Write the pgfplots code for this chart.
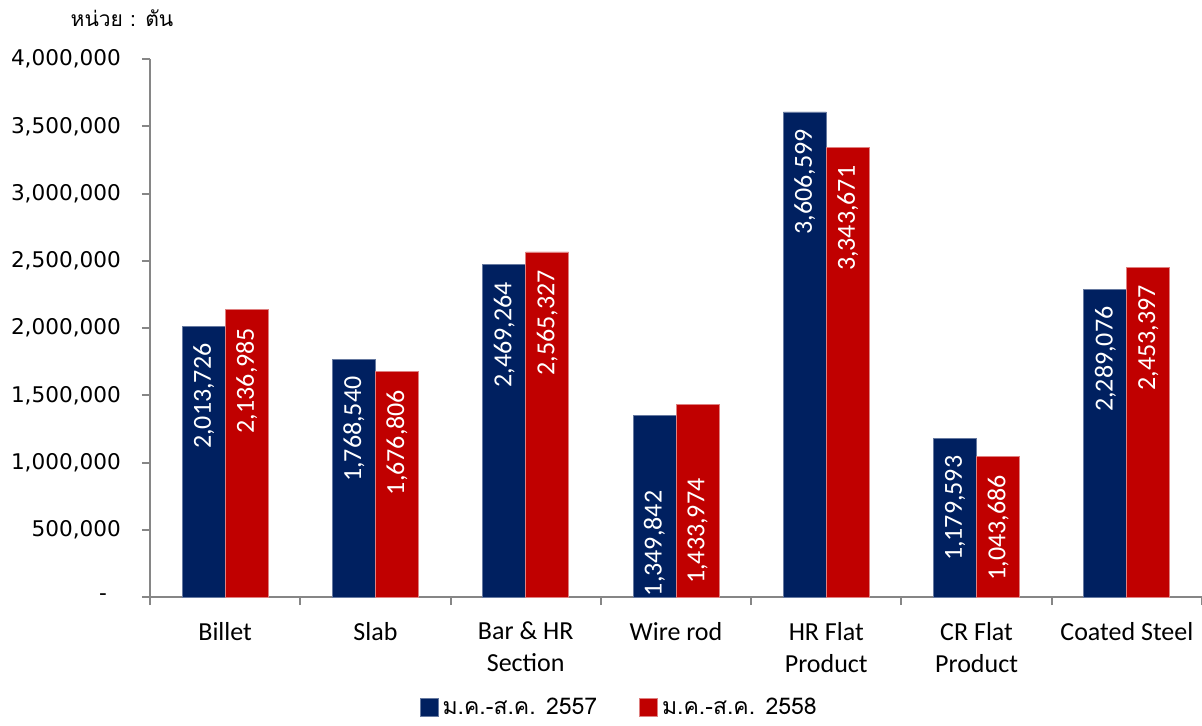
\documentclass[border=0pt]{standalone}
\usepackage{fontspec}
\usepackage{pgfplots}
\usepackage{pgfplotstable}
\pgfplotsset{compat=1.18}
\setmainfont{Carlito}
\newfontfamily\thai[Script=Thai]{Loma}
\newfontfamily\dejavu{DejaVu Sans}
\definecolor{cblue}{RGB}{0,32,96}
\definecolor{cred}{RGB}{192,0,0}
\definecolor{axgray}{RGB}{134,134,134}

\pgfplotstableread{
x y label off
0 2013726 2,013,726 8.5
1 1768540 1,768,540 8.5
2 2469264 2,469,264 8.5
3 1349842 1,349,842 37.5
4 3606599 3,606,599 8.5
5 1179593 1,179,593 8.5
6 2289076 2,289,076 8.5
}\tblA
\pgfplotstableread{
x y label off
0 2136985 2,136,985 9
1 1676806 1,676,806 9
2 2565327 2,565,327 9
3 1433974 1,433,974 37
4 3343671 3,343,671 9
5 1043686 1,043,686 9
6 2453397 2,453,397 9
}\tblB

\begin{document}
\begin{tikzpicture}
\useasboundingbox (-75pt,-64pt) rectangle (526pt,298.5pt);
\begin{axis}[
  at={(0,0)}, anchor=south west,
  scale only axis,
  width=526pt, height=269pt,
  xmin=-0.5, xmax=6.5,
  ymin=0, ymax=4000000,
  ybar=0pt, bar width=21.5pt,
  axis x line*=bottom, axis y line*=left,
  axis line style={draw=axgray, line width=1pt},
  tick align=outside,
  xtick={0,...,6},
  xticklabels={Billet, Slab, {Bar \& HR\\Section}, Wire rod, {HR Flat\\Product}, {CR Flat\\Product}, Coated Steel},
  xticklabel style={font=\fontsize{13}{16}\selectfont, align=center, yshift=-5pt},
  major x tick style={draw=none},
  minor xtick={-0.5,0.5,...,6.5},
  minor tick length=4pt,
  minor x tick style={draw=axgray, line width=1pt},
  ytick={0,500000,...,4000000},
  yticklabels={{-\kern 7pt},{500,000},{1,000,000},{1,500,000},{2,000,000},{2,500,000},{3,000,000},{3,500,000},{4,000,000}},
  yticklabel style={font=\dejavu\fontsize{10.8}{12}\selectfont, xshift=-7pt},
  major tick length=4pt,
  y tick style={draw=axgray, line width=1pt},
  scaled y ticks=false,
  nodes near coords,
  point meta=explicit symbolic,
  visualization depends on={\thisrow{off}\as\off},
  every node near coord/.append style={font=\fontsize{13}{13}\selectfont, text=white, yshift=-\off pt, rotate=90, anchor=east, inner sep=0pt},
  legend style={draw=none, at={(axis description cs:0.447,-0.206)}, anchor=center, legend columns=2, font=\thai\fontsize{11.5}{13}\selectfont,
    /tikz/every even column/.append style={column sep=19pt}},
  legend image code/.code={\fill[#1] (0pt,-4.5pt) rectangle (9pt,4.5pt);},
  clip=false,
]
\addplot[fill=cblue, draw=cblue!60!white, line width=0.4pt] table[x=x, y=y, meta=label] {\tblA};
\addplot[fill=cred, draw=cred!50!white, line width=0.4pt] table[x=x, y=y, meta=label] {\tblB};
\legend{ม.ค.-ส.ค. 2557, ม.ค.-ส.ค. 2558}
\node[font=\thai\fontsize{10.5}{13}\selectfont] at ([xshift=-14pt, yshift=20.5pt]rel axis cs:0,1) {หน่วย : ตัน};
\end{axis}
\end{tikzpicture}
\end{document}
